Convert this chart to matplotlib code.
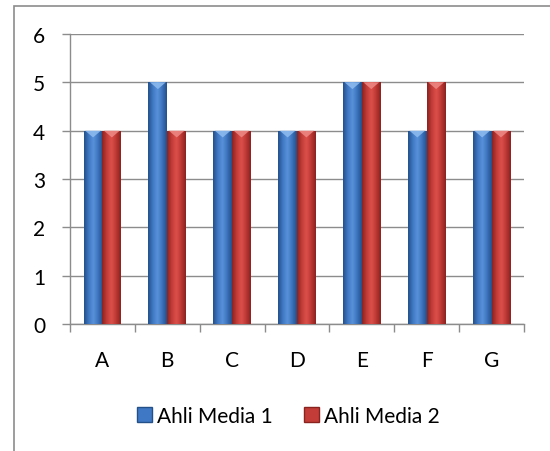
import numpy as np
import matplotlib
matplotlib.use("Agg")
import matplotlib.pyplot as plt
from matplotlib.patches import Patch, Rectangle, Polygon
from matplotlib.colors import LinearSegmentedColormap

plt.rcParams["font.family"] = ["Lato", "DejaVu Sans"]

categories = ["A", "B", "C", "D", "E", "F", "G"]
media1 = [4, 5, 4, 4, 5, 4, 4]
media2 = [4, 4, 4, 4, 5, 5, 4]
labels = ["Ahli Media 1", "Ahli Media 2"]

BLUE = ["#24508a", "#3f78c4", "#5a93da", "#3c73bd", "#24508a"]
RED = ["#8a2320", "#c33c38", "#dc504b", "#bd3834", "#8a2320"]
BASE = ["#3f78c4", "#c33c38"]
TOP = ["#8fbcef", "#ee8a86"]
FS = 15

fig = plt.figure(figsize=(5.5, 4.52), dpi=100)
ax = fig.add_axes([0.1273, 0.281, 0.8254, 0.6416])

grey = "#8c8c8c"
x = np.arange(len(categories))
w = 0.29


def gradient_bars(xs, vals, cols, top):
    cmap = LinearSegmentedColormap.from_list("g", cols)
    grad = np.linspace(0, 1, 64).reshape(1, -1)
    bars = ax.bar(xs, vals, w, color="none", edgecolor="none", zorder=3)
    for b in bars:
        x0, h = b.get_x(), b.get_height()
        im = ax.imshow(grad, cmap=cmap, aspect="auto", zorder=3,
                       extent=(x0, x0 + w, 0, h), interpolation="bicubic")
        im.set_clip_path(b)
        # small bevel highlight at the top
        ax.add_patch(Polygon([(x0 + w * 0.08, h), (x0 + w * 0.92, h),
                              (x0 + w * 0.5, h - 0.14)], closed=True,
                             color=top, alpha=0.85, lw=0, zorder=4))
    return bars


gradient_bars(x - w / 2, media1, BLUE, TOP[0])
gradient_bars(x + w / 2, media2, RED, TOP[1])

ax.set_xlim(-0.5, len(categories) - 0.5)
ax.set_ylim(0, 6)
ax.set_yticks(range(7))
ax.set_xticks(x)
ax.set_xticklabels(categories)
ax.set_xticks(np.arange(-0.5, len(categories)), minor=True)
ax.tick_params(axis="x", which="major", length=0, pad=19, labelsize=FS)
ax.tick_params(axis="x", which="minor", length=6, color=grey, width=1)
ax.tick_params(axis="y", length=6, color=grey, width=1, pad=12, labelsize=FS)
ax.grid(axis="y", color=grey, lw=1, zorder=0)
ax.set_axisbelow(True)
for s in ("top", "right"):
    ax.spines[s].set_visible(False)
for s in ("left", "bottom"):
    ax.spines[s].set_color(grey)
    ax.spines[s].set_linewidth(1)

handles = [Patch(facecolor=BASE[0], edgecolor="#24508a", label=labels[0]),
           Patch(facecolor=BASE[1], edgecolor="#8a2320", label=labels[1])]
fig.legend(handles=handles, loc="center", bbox_to_anchor=(0.524, 0.077),
           ncol=2, frameon=False, fontsize=FS, handlelength=0.72,
           handleheight=0.72, handletextpad=0.25, columnspacing=1.5)

fig.add_artist(Rectangle((0.0255, -0.02), 1.0, 1.0045, transform=fig.transFigure,
                         fill=False, edgecolor=grey, lw=1.2))

fig.savefig("out.png", dpi=100)
